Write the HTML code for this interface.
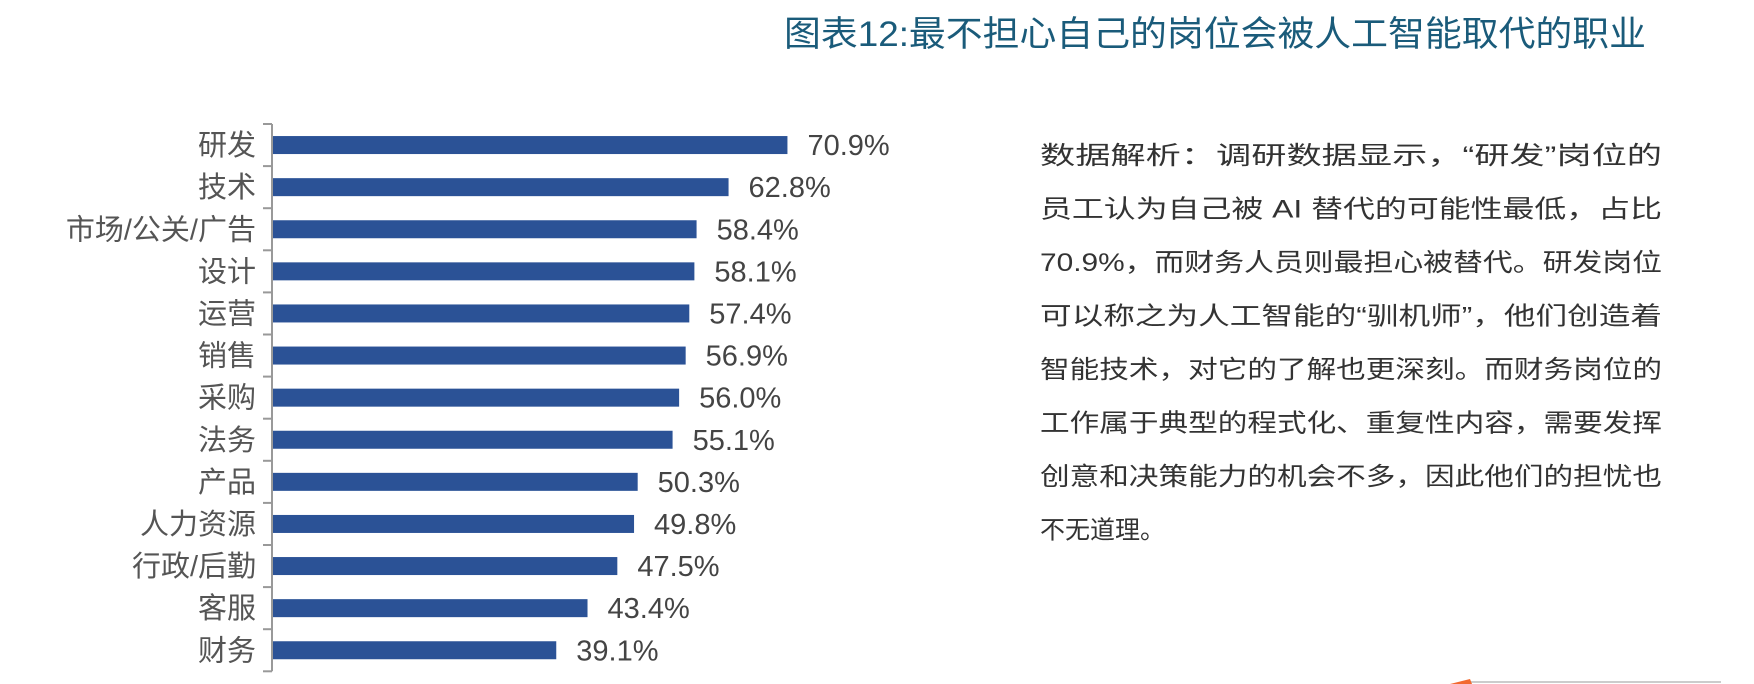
<!DOCTYPE html>
<html><head><meta charset="utf-8"><style>
html,body{margin:0;padding:0;background:#fff;}
svg{display:block;font-family:"Liberation Sans","Noto Sans CJK SC",sans-serif;}
</style></head><body>
<svg id="c" width="1754" height="684" viewBox="0 0 1754 684">
<text x="784" y="46" font-size="35" fill="#1a5b7a" textLength="862" lengthAdjust="spacingAndGlyphs">图表12:最不担心自己的岗位会被人工智能取代的职业</text>
<g id="bars"></g>
<g id="para" font-size="25" fill="#333"></g>
<line x1="1470" y1="682" x2="1721" y2="682" stroke="#bbb" stroke-width="1.5"/>
<path d="M1450 684 L1470 679 L1472 684 Z" fill="#f26a30"/>
</svg>
<script>
const categories=["研发","技术","市场/公关/广告","设计","运营","销售","采购","法务","产品","人力资源","行政/后勤","客服","财务"];
const values=[70.9,62.8,58.4,58.1,57.4,56.9,56.0,55.1,50.3,49.8,47.5,43.4,39.1];
const valueLabels=["70.9%","62.8%","58.4%","58.1%","57.4%","56.9%","56.0%","55.1%","50.3%","49.8%","47.5%","43.4%","39.1%"];
const paragraphLines=["数据解析：调研数据显示，“研发”岗位的","员工认为自己被 AI 替代的可能性最低，占比","70.9%，而财务人员则最担心被替代。研发岗位","可以称之为人工智能的“驯机师”，他们创造着","智能技术，对它的了解也更深刻。而财务岗位的","工作属于典型的程式化、重复性内容，需要发挥","创意和决策能力的机会不多，因此他们的担忧也","不无道理。"];
const NS="http://www.w3.org/2000/svg";
const x0=272, pxPer=7.27, yTop=124, step=42.1, bh=18;
const xs=v=>x0+v*pxPer;
const yc=i=>yTop+step*(i+0.5);
const g=document.getElementById('bars');
function mk(t,a,p){const e=document.createElementNS(NS,t);for(const k in a)e.setAttribute(k,a[k]);p.appendChild(e);return e;}
let ax=mk('line',{x1:x0,y1:yTop,x2:x0,y2:yTop+step*categories.length,stroke:'#999','stroke-width':2},g);


for(let i=0;i<=categories.length;i++){
  let t=mk('line',{x1:x0-9,y1:yTop+step*i,x2:x0,y2:yTop+step*i,stroke:'#999','stroke-width':2},g);
  
  
}
categories.forEach((c,i)=>{
  let r=mk('rect',{x:x0+1,y:yc(i)-bh/2,width:xs(values[i])-x0-1,height:bh,fill:'#2b5296'},g);
  
  
  let l=mk('text',{x:256,y:yc(i)+10,'font-size':29,fill:'#555','text-anchor':'end'},g);
  l.textContent=c;
  
  
  let v=mk('text',{x:xs(values[i])+20,y:yc(i)+10,'font-size':29,fill:'#444'},g);
  v.textContent=valueLabels[i];
  
  
});
const p=document.getElementById('para');
paragraphLines.forEach((s,i)=>{
  const a={x:1040,y:164+i*53.5};
  if(i<paragraphLines.length-1){a.textLength=622;a.lengthAdjust='spacingAndGlyphs';}
  let t=mk('text',a,p);
  t.textContent=s;
  
  
});
</script>
</body></html>
